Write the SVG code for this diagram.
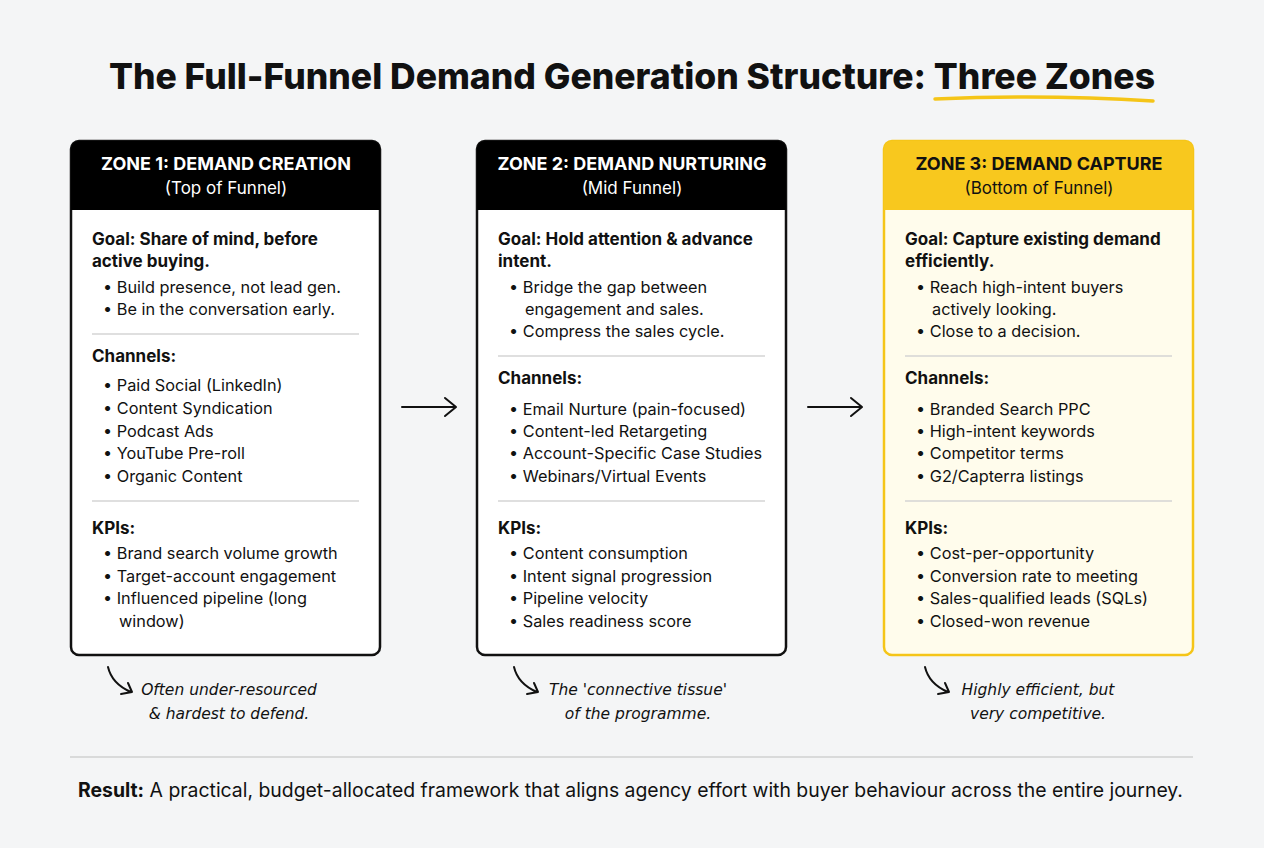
<svg xmlns="http://www.w3.org/2000/svg" width="1264" height="848" viewBox="0 0 1264 848">
<style>
text{font-family:Inter,"Liberation Sans",Arial,sans-serif;fill:#111}
.h1{font-size:18px;font-weight:700;fill:#fff;text-anchor:middle}
.h2{font-size:17px;fill:#fff;text-anchor:middle}
.y1{fill:#111}
.b{font-size:17px;font-weight:700}
.t{font-size:16.3px}
.n{font-family:"DejaVu Sans",sans-serif;font-style:italic;font-size:15.5px;text-anchor:middle}
.div{stroke:#d4d4d4;stroke-width:1.5}
.ln{fill:none;stroke:#111;stroke-width:2;stroke-linecap:round;stroke-linejoin:round}
</style>
<rect width="1264" height="848" fill="#f4f5f6"/>
<text x="632" y="89" text-anchor="middle" style="font-size:35.5px;font-weight:800">The Full-Funnel Demand Generation Structure: Three Zones</text>
<path d="M935 99 Q1045 94 1153 101" fill="none" stroke="#F5C518" stroke-width="3.5" stroke-linecap="round"/>

<g id="zone1">
<rect x="71" y="141" width="309" height="514" rx="8" fill="#fff" stroke="#111" stroke-width="2.5"/>
<path d="M71 210 V149 a8 8 0 0 1 8 -8 H372 a8 8 0 0 1 8 8 V210 Z" fill="#000"/>
<text class="h1" x="226" y="170">ZONE 1: DEMAND CREATION</text>
<text class="h2" x="226" y="194">(Top of Funnel)</text>
<text class="b" x="92" y="245">Goal: Share of mind, before</text>
<text class="b" x="92" y="267">active buying.</text>
<text class="t" x="103" y="293">•  Build presence, not lead gen.</text>
<text class="t" x="103" y="315">•  Be in the conversation early.</text>
<line class="div" x1="92" y1="334" x2="359" y2="334"/>
<text class="b" x="92" y="362">Channels:</text>
<text class="t" x="103" y="391">•  Paid Social (LinkedIn)</text>
<text class="t" x="103" y="414">•  Content Syndication</text>
<text class="t" x="103" y="437">•  Podcast Ads</text>
<text class="t" x="103" y="459">•  YouTube Pre-roll</text>
<text class="t" x="103" y="482">•  Organic Content</text>
<line class="div" x1="92" y1="501" x2="359" y2="501"/>
<text class="b" x="92" y="534">KPIs:</text>
<text class="t" x="103" y="559">•  Brand search volume growth</text>
<text class="t" x="103" y="582">•  Target-account engagement</text>
<text class="t" x="103" y="604">•  Influenced pipeline (long</text>
<text class="t" x="119" y="627">window)</text>
</g>

<g id="zone2">
<rect x="477" y="141" width="309" height="514" rx="8" fill="#fff" stroke="#111" stroke-width="2.5"/>
<path d="M477 210 V149 a8 8 0 0 1 8 -8 H778 a8 8 0 0 1 8 8 V210 Z" fill="#000"/>
<text class="h1" x="632" y="170">ZONE 2: DEMAND NURTURING</text>
<text class="h2" x="632" y="194">(Mid Funnel)</text>
<text class="b" x="498" y="245">Goal: Hold attention &amp; advance</text>
<text class="b" x="498" y="267">intent.</text>
<text class="t" x="509" y="293">•  Bridge the gap between</text>
<text class="t" x="525" y="315">engagement and sales.</text>
<text class="t" x="509" y="337">•  Compress the sales cycle.</text>
<line class="div" x1="498" y1="356" x2="765" y2="356"/>
<text class="b" x="498" y="384">Channels:</text>
<text class="t" x="509" y="415">•  Email Nurture (pain-focused)</text>
<text class="t" x="509" y="437">•  Content-led Retargeting</text>
<text class="t" x="509" y="459">•  Account-Specific Case Studies</text>
<text class="t" x="509" y="482">•  Webinars/Virtual Events</text>
<line class="div" x1="498" y1="501" x2="765" y2="501"/>
<text class="b" x="498" y="534">KPIs:</text>
<text class="t" x="509" y="559">•  Content consumption</text>
<text class="t" x="509" y="582">•  Intent signal progression</text>
<text class="t" x="509" y="604">•  Pipeline velocity</text>
<text class="t" x="509" y="627">•  Sales readiness score</text>
</g>

<g id="zone3">
<rect x="884" y="141" width="309" height="514" rx="8" fill="#FFFCEC" stroke="#F5C518" stroke-width="2.5"/>
<path d="M884 210 V149 a8 8 0 0 1 8 -8 H1185 a8 8 0 0 1 8 8 V210 Z" fill="#F8C81E"/>
<text class="h1 y1" x="1039" y="170">ZONE 3: DEMAND CAPTURE</text>
<text class="h2 y1" x="1039" y="194">(Bottom of Funnel)</text>
<text class="b" x="905" y="245">Goal: Capture existing demand</text>
<text class="b" x="905" y="267">efficiently.</text>
<text class="t" x="916" y="293">•  Reach high-intent buyers</text>
<text class="t" x="932" y="315">actively looking.</text>
<text class="t" x="916" y="337">•  Close to a decision.</text>
<line class="div" x1="905" y1="356" x2="1172" y2="356"/>
<text class="b" x="905" y="384">Channels:</text>
<text class="t" x="916" y="415">•  Branded Search PPC</text>
<text class="t" x="916" y="437">•  High-intent keywords</text>
<text class="t" x="916" y="459">•  Competitor terms</text>
<text class="t" x="916" y="482">•  G2/Capterra listings</text>
<line class="div" x1="905" y1="501" x2="1172" y2="501"/>
<text class="b" x="905" y="534">KPIs:</text>
<text class="t" x="916" y="559">•  Cost-per-opportunity</text>
<text class="t" x="916" y="582">•  Conversion rate to meeting</text>
<text class="t" x="916" y="604">•  Sales-qualified leads (SQLs)</text>
<text class="t" x="916" y="627">•  Closed-won revenue</text>
</g>

<g id="connectors">
<path class="ln" d="M402 407 H455 M445 398 L456 407 L445 416"/>
<path class="ln" d="M808 407 H861 M851 398 L862 407 L851 416"/>
<path class="ln" d="M108 667 Q112 684 131 692 M121 694 L132 692 L128 683"/>
<path class="ln" d="M514 667 Q518 684 537 692 M527 694 L538 692 L534 683"/>
<path class="ln" d="M925 667 Q929 684 948 692 M938 694 L949 692 L945 683"/>
</g>

<g id="notes">
<text class="n" x="229" y="695">Often under-resourced</text>
<text class="n" x="229" y="719">&amp; hardest to defend.</text>
<text class="n" x="638" y="695">The 'connective tissue'</text>
<text class="n" x="638" y="719">of the programme.</text>
<text class="n" x="1038" y="695">Highly efficient, but</text>
<text class="n" x="1038" y="719">very competitive.</text>
</g>
<line x1="70" y1="757" x2="1193" y2="757" stroke="#d0d0d0" stroke-width="1.5"/>
<text x="78" y="797" style="font-size:19.4px"><tspan font-weight="700">Result:</tspan> A practical, budget-allocated framework that aligns agency effort with buyer behaviour across the entire journey.</text>
</svg>
